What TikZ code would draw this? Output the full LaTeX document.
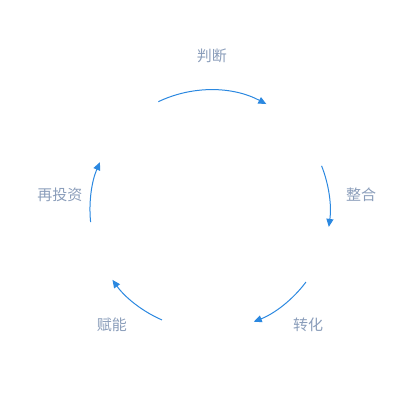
\documentclass[tikz,border=0pt]{standalone}
\usepackage{fontspec}
\newfontfamily\cjk{Noto Sans CJK SC}
\usetikzlibrary{arrows.meta,positioning}
\definecolor{arcblue}{HTML}{2B88E0}
\definecolor{labelgray}{HTML}{8A9DBA}

\begin{document}
\begin{tikzpicture}[x=1pt, y=1pt,
    cyclearc/.style={draw=arcblue, line width=1pt, -{Triangle[length=8pt,width=7pt]}},
    stagelabel/.style={font=\cjk\fontsize{15}{18}\selectfont, text=labelgray, inner sep=0pt}]
    \useasboundingbox (-210,-210) rectangle (210,210);

    % stage labels around the cycle
    \node[stagelabel] (judge) at (2,154) {判断};
    \node[stagelabel] (integrate) at (151,15) {整合};
    \node[stagelabel] (convert) at (98,-115) {转化};
    \node[stagelabel] (empower) at (-98,-115) {赋能};
    \node[stagelabel] (reinvest) at (-150,15) {再投资};

    % arc starts on the circle
    \coordinate (judgeA) at (115.5:120);
    \coordinate (integrateA) at (21.6:120);
    \coordinate (convertA) at (-36.9:120);
    \coordinate (empowerA) at (-113.6:120);
    \coordinate (reinvestA) at (185.8:120);

    % clockwise arrows
    \draw[cyclearc] (judgeA) arc[start angle=115.5, end angle=62, radius=120];
    \draw[cyclearc] (integrateA) arc[start angle=21.6, end angle=-8.1, radius=120];
    \draw[cyclearc] (convertA) arc[start angle=-36.9, end angle=-68.6, radius=120];
    \draw[cyclearc] (empowerA) arc[start angle=-113.6, end angle=-144.4, radius=120];
    \draw[cyclearc] (reinvestA) arc[start angle=185.8, end angle=156.5, radius=120];
\end{tikzpicture}
\end{document}
